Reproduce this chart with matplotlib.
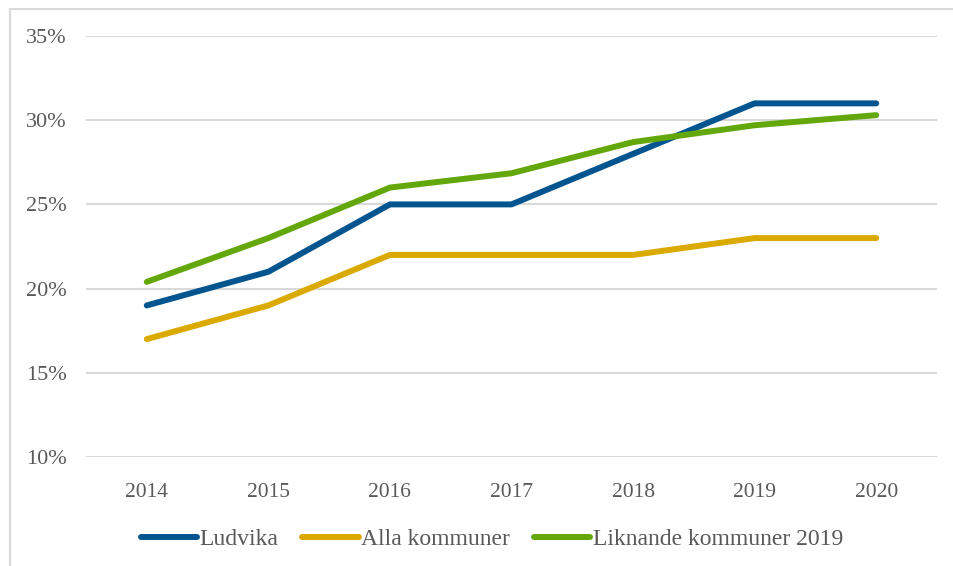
from matplotlib import pyplot as plt
from matplotlib.lines import Line2D
from matplotlib.ticker import FuncFormatter

# Andel (%) per år
years = ['2014', '2015', '2016', '2017', '2018', '2019', '2020']
ludvika = [19, 21, 25, 25, 28, 31, 31]
alla_kommuner = [17, 19, 22, 22, 22, 23, 23]
liknande_kommuner = [20.4, 23, 26, 26.85, 28.7, 29.7, 30.3]

series_names = ['Ludvika', 'Alla kommuner', 'Liknande kommuner 2019']
colors = ['#03558F', '#DAAA00', '#64A70B']
text_color = '#595959'
border_color = '#D9D9D9'

plt.rcParams['font.family'] = ['Liberation Serif', 'DejaVu Serif']

W, H = 954, 566
fig = plt.figure(figsize=(W / 100, H / 100), dpi=100)
ax = fig.add_axes([86 / W, 1 - 457 / H, (937 - 86) / W, (457 - 36) / H])

# ram (bara övre och vänstra kanten syns)
bx, by = 10 / W, 1 - 9 / H
fig.lines.append(Line2D([bx, 1.01], [by, by], transform=fig.transFigure,
                        color=border_color, linewidth=1.5))
fig.lines.append(Line2D([bx, bx], [by, -0.01], transform=fig.transFigure,
                        color=border_color, linewidth=1.5))

x = list(range(len(years)))
for values, name, color in zip([ludvika, alla_kommuner, liknande_kommuner],
                               series_names, colors):
    ax.plot(x, values, color=color, linewidth=4.3, label=name,
            solid_capstyle='round', solid_joinstyle='round', zorder=3)

ax.set_xlim(-0.5, len(years) - 0.5)
ax.set_ylim(10, 35)
ax.set_yticks(range(10, 36, 5))
ax.yaxis.set_major_formatter(FuncFormatter(lambda v, p: f'{v:.0f}%'))
ax.set_xticks(x)
ax.set_xticklabels(years)

ax.grid(axis='y', color=border_color, linewidth=1.5, zorder=0)
for side in ax.spines.values():
    side.set_visible(False)
ax.tick_params(axis='both', length=0, labelsize=15.5, labelcolor=text_color)
ax.tick_params(axis='x', pad=19)
ax.tick_params(axis='y', pad=14, labelsize=16)

leg = ax.legend(loc='center', bbox_to_anchor=(0.477, -0.195), ncol=3,
                frameon=False, fontsize=17, handlelength=2.4,
                handletextpad=0.1, columnspacing=1.0)
for t in leg.get_texts():
    t.set_color(text_color)

fig.savefig('out.png', dpi=100)
